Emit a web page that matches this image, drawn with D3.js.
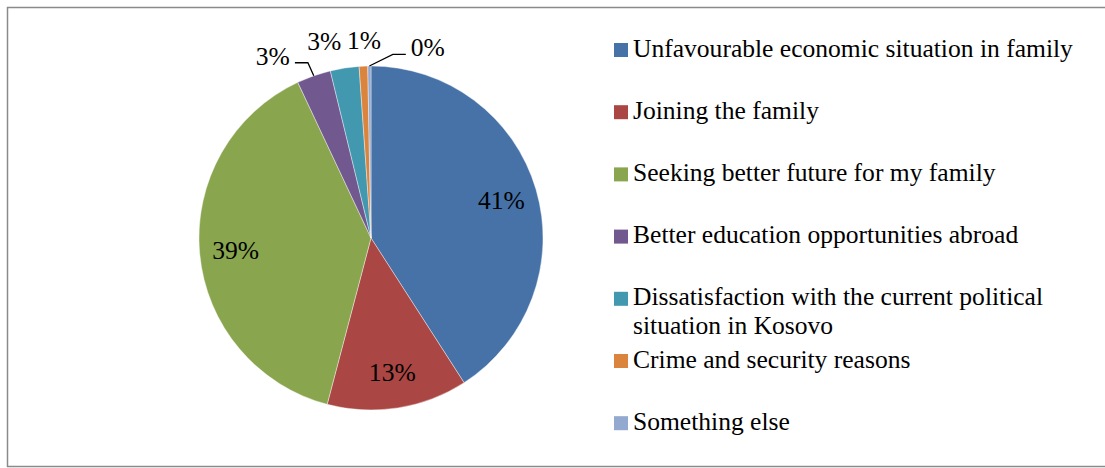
<!DOCTYPE html>
<html>
<head>
<meta charset="utf-8">
<script src="https://cdn.jsdelivr.net/npm/d3@7"></script>
<style>
  html, body { margin: 0; padding: 0; background: #fff; }
  svg { display: block; }
</style>
</head>
<body>
<svg id="chart" width="1105" height="468"></svg>
<script>
// Reasons for emigration (share of respondents, %)
const categories = [
  "Unfavourable economic situation in family",
  "Joining the family",
  "Seeking better future for my family",
  "Better education opportunities abroad",
  "Dissatisfaction with the current political situation in Kosovo",
  "Crime and security reasons",
  "Something else"
];
const shares = [40.9, 13.2, 38.9, 3.2, 2.7, 0.8, 0.3];
const colors = ["#4672a8", "#aa4643", "#89a54e", "#71588f", "#4198af", "#db843d", "#93a9cf"];

// Placement of labels for the thin slices (angle in degrees clockwise from 12 o'clock, radius in px)
const outsideLabels = [
  { index: 3, angle: 331.7, radius: 207, leader: "left" },
  { index: 4, angle: 346.6, radius: 202, leader: null },
  { index: 5, angle: 358.0, radius: 198, leader: null },
  { index: 6, angle: 16.6,  radius: 199, leader: "right" }
];

const W = 1105, H = 468;
const cx = 371, cy = 238, R = 172;
const FONT = "Liberation Serif";
const fmt = v => d3.format(".0%")(v / 100);

const svg = d3.select("#chart");

// size the type so the longest legend line spans about 440px
const probe = svg.append("text").attr("font-family", FONT).attr("font-size", 24).text(categories[0]);
const fontSize = Math.min(27, Math.max(20, 24 * 440 / probe.node().getComputedTextLength()));
probe.remove();

// outer frame
svg.append("rect")
  .attr("x", 7.5).attr("y", 7.5)
  .attr("width", W).attr("height", H - 9)
  .attr("fill", "none").attr("stroke", "#8a8a8a").attr("stroke-width", 1.5);

const pie = d3.pie().sort(null).value(d => d)(shares);
const arc = d3.arc().innerRadius(0).outerRadius(R);
const g = svg.append("g").attr("transform", `translate(${cx},${cy})`);

g.selectAll("path.slice").data(pie).join("path")
  .attr("class", "slice")
  .attr("d", arc)
  .attr("fill", (d, i) => colors[i])
  .attr("stroke", "#ffffff").attr("stroke-width", 0.4);

// labels inside the large slices
const labelArc = d3.arc().innerRadius(136).outerRadius(136);
g.selectAll("text.inside").data(pie.filter(d => d.value >= 10)).join("text")
  .attr("class", "inside")
  .attr("transform", d => `translate(${labelArc.centroid(d)})`)
  .attr("text-anchor", "middle").attr("dy", "0.35em")
  .attr("font-family", FONT).attr("font-size", fontSize)
  .text(d => fmt(d.value));

// labels outside the thin slices, with leader lines where needed
const polar = (deg, r) => [r * Math.sin(deg * Math.PI / 180), -r * Math.cos(deg * Math.PI / 180)];
outsideLabels.forEach(o => {
  const d = pie[o.index];
  const [lx, ly] = polar(o.angle, o.radius);
  const t = g.append("text")
    .attr("x", lx).attr("y", ly)
    .attr("text-anchor", "middle").attr("dy", "0.35em")
    .attr("font-family", FONT).attr("font-size", fontSize)
    .text(fmt(d.value));
  if (o.leader) {
    const w = t.node().getComputedTextLength();
    const mid = (d.startAngle + d.endAngle) / 2 * 180 / Math.PI;
    const start = polar(mid, R);
    const dir = o.leader === "left" ? 1 : -1;
    const endX = lx + dir * (w / 2 + 5);
    const elbowX = endX + dir * 13;
    const yLine = ly + 7;
    g.append("path")
      .attr("d", `M${start[0]},${start[1]}L${elbowX},${yLine}L${endX},${yLine}`)
      .attr("fill", "none").attr("stroke", "#000").attr("stroke-width", 1.3);
  }
});

// legend
const legendX = 614, legendY = 50, rowStep = 62.2, box = 14, textX = 633, lineH = 29, maxW = 450;
const lg = svg.append("g");
categories.forEach((c, i) => {
  const y = legendY + i * rowStep;
  lg.append("rect")
    .attr("x", legendX).attr("y", y - box / 2)
    .attr("width", box).attr("height", box)
    .attr("fill", colors[i]);
  const t = lg.append("text")
    .attr("x", textX).attr("y", y + 6.5)
    .attr("font-family", FONT).attr("font-size", fontSize);
  // wrap long entries word by word
  const words = c.split(" ");
  let line = [], tspan = t.append("tspan").attr("x", textX).attr("dy", 0);
  words.forEach(wd => {
    line.push(wd);
    tspan.text(line.join(" "));
    if (tspan.node().getComputedTextLength() > maxW && line.length > 1) {
      line.pop();
      tspan.text(line.join(" "));
      line = [wd];
      tspan = t.append("tspan").attr("x", textX).attr("dy", lineH).text(wd);
    }
  });
});
</script>
</body>
</html>
